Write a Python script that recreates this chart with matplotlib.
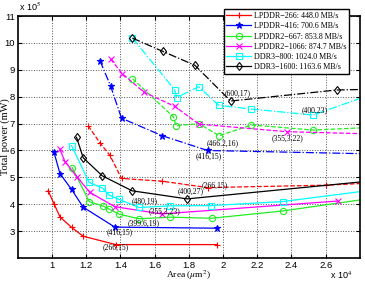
import matplotlib
matplotlib.use('Agg')
import matplotlib.pyplot as plt

plt.rcParams['font.family'] = 'Liberation Sans'
plt.rcParams['mathtext.fontset'] = 'stix'
serif = 'Liberation Serif'

# series labels / styles
labels = ['LPDDR\u2212266: 448.0 MB/s', 'LPDDR\u2212416: 700.6 MB/s',
          'LPDDR2\u2212667: 853.8 MB/s', 'LPDDR2\u22121066: 874.7 MB/s',
          'DDR3\u2212800: 1024.0 MB/s', 'DDR3\u22121600: 1163.6 MB/s']
colors = ['#ff0000', '#0000ff', '#22ee22', '#ff00ff', '#00ffff', '#000000']
markers = ['+', '*', 'o', 'x', 's', 'd']
upper_styles = ['--', '-.', '--', '--', '-.', '-.']

# lower (solid) curves: area (x1e4 um^2), power (x1e5 mW)
lp266_area_a = [0.977, 1.012, 1.046, 1.114, 1.182, 1.373, 1.962]
lp266_power_a = [4.50, 4.01, 3.53, 3.14, 2.81, 2.50, 2.50]
lp416_area_a = [1.010, 1.046, 1.114, 1.182, 1.367, 1.962]
lp416_power_a = [5.96, 5.14, 4.55, 3.89, 3.15, 3.11]
lp667_area_a = [1.118, 1.217, 1.299, 1.334, 1.393, 1.509, 1.689, 1.933, 2.348, 2.9]
lp667_power_a = [5.36, 4.10, 3.93, 3.82, 3.63, 3.46, 3.52, 3.48, 3.75, 4.25]
lp1066_area_a = [1.046, 1.075, 1.147, 1.221, 1.367, 1.640, 2.670]
lp1066_power_a = [6.04, 5.59, 5.01, 4.44, 3.91, 3.64, 4.12]
ddr800_area_a = [1.114, 1.217, 1.293, 1.334, 1.393, 1.509, 1.689, 1.929, 2.348, 2.9]
ddr800_power_a = [6.18, 4.81, 4.61, 4.34, 4.18, 3.88, 3.94, 3.95, 4.10, 4.55]
ddr1600_area_a = [1.143, 1.182, 1.293, 1.468, 1.790, 2.9]
ddr1600_power_a = [6.49, 5.73, 5.06, 4.50, 4.20, 4.89]

# upper (dashed) curves
lp266_area_b = [1.211, 1.280, 1.338, 1.406, 1.640, 1.910, 2.600, 2.9]
lp266_power_b = [6.92, 6.28, 5.82, 4.96, 4.86, 4.62, 4.71, 4.80]
lp416_area_b = [1.280, 1.342, 1.406, 1.644, 1.909, 2.9]
lp416_power_b = [9.34, 8.40, 7.20, 6.55, 6.00, 5.87]
lp667_area_b = [1.470, 1.710, 1.725, 1.858, 1.977, 2.166, 2.527, 2.9]
lp667_power_b = [8.67, 7.25, 6.92, 7.00, 6.55, 6.95, 6.76, 6.87]
lp1066_area_b = [1.342, 1.410, 1.537, 1.718, 1.858, 2.371, 2.9]
lp1066_power_b = [9.40, 8.86, 8.17, 7.64, 6.98, 6.70, 6.61]
ddr800_area_b = [1.470, 1.718, 1.728, 1.858, 1.975, 2.166, 2.527, 2.85]
ddr800_power_b = [10.18, 8.25, 7.97, 8.37, 7.68, 7.54, 7.32, 8.05]
ddr1600_area_b = [1.470, 1.646, 1.835, 2.044, 2.664, 2.9]
ddr1600_power_b = [10.18, 9.69, 9.17, 7.84, 8.25, 8.28]

# point annotations
note_texts = ['(266,15)', '(416,15)', '(399.6,19)', '(355,3,23)', '(480,19)',
              '(400,27)', '(266,15)', '(416,15)', '(466.2,16)', '(355,3.22)',
              '(400,23)', '(600,17)']
note_x = [1.373, 1.396, 1.534, 1.660, 1.543, 1.812, 1.952, 1.917, 2.000, 2.379, 2.537, 2.084]
note_y = [2.41, 2.97, 3.30, 3.76, 4.11, 4.48, 4.72, 5.77, 6.28, 6.47, 7.50, 8.13]

lower = [(lp266_area_a, lp266_power_a), (lp416_area_a, lp416_power_a),
         (lp667_area_a, lp667_power_a), (lp1066_area_a, lp1066_power_a),
         (ddr800_area_a, ddr800_power_a), (ddr1600_area_a, ddr1600_power_a)]
upper = [(lp266_area_b, lp266_power_b), (lp416_area_b, lp416_power_b),
         (lp667_area_b, lp667_power_b), (lp1066_area_b, lp1066_power_b),
         (ddr800_area_b, ddr800_power_b), (ddr1600_area_b, ddr1600_power_b)]

fig = plt.figure(figsize=(3.65, 2.82), dpi=100)
ax = fig.add_axes([0.049, 0.085, 0.937, 0.858])

for i in range(6):
    mfc = colors[i] if markers[i] == '*' else 'none'
    ax.plot(lower[i][0], lower[i][1], linestyle='-', color=colors[i], linewidth=0.9,
            marker=markers[i], markersize=4.5, markerfacecolor=mfc, markeredgewidth=0.8,
            label=labels[i])
    ax.plot(upper[i][0], upper[i][1], linestyle=upper_styles[i], color=colors[i], linewidth=0.9,
            marker=markers[i], markersize=4.5, markerfacecolor=mfc, markeredgewidth=0.8)

for t, x, y in zip(note_texts, note_x, note_y):
    ax.text(x, y, t, fontsize=5.5, family=serif, ha='center', va='center')

ax.set_xlim(0.8, 2.8)
ax.set_ylim(2, 11)
ax.set_xticks([1, 1.2, 1.4, 1.6, 1.8, 2, 2.2, 2.4, 2.6])
ax.set_xticklabels(['1', '1.2', '1.4', '1.6', '1.8', '2', '2.2', '2.4', '2.6'])
ax.set_yticks([3, 4, 5, 6, 7, 8, 9, 10, 11])
ax.tick_params(direction='in', top=True, right=True, labelsize=6.8, length=3, width=0.8, pad=2)
ax.grid(True, linestyle=':', color='#555555', linewidth=0.7)
for s in ax.spines.values():
    s.set_linewidth(1.2)

ax.set_xlabel(r'Area ($\mu$m$^2$)', family=serif, fontsize=6.8, va='bottom')
ax.xaxis.set_label_coords(0.5, -0.098)
ax.set_ylabel('Total power (mW)', family=serif, fontsize=7.5, va='center')
ax.yaxis.set_label_coords(-0.038, 0.5)
fig.text(0.052, 0.975, r'x 10$^5$', fontsize=6.5, ha='left', va='center')
fig.text(0.905, 0.022, r'x 10$^4$', fontsize=6.5, ha='left', va='center')

leg = ax.legend(loc='upper right', bbox_to_anchor=(0.98, 1.045),
                prop={'family': serif, 'size': 5.8}, handlelength=3.0, labelspacing=0.28,
                borderpad=0.35, handletextpad=0.4, fancybox=False, framealpha=1)
leg.get_frame().set_edgecolor('black')
leg.get_frame().set_linewidth(1.0)

fig.savefig('out.png', dpi=100)
